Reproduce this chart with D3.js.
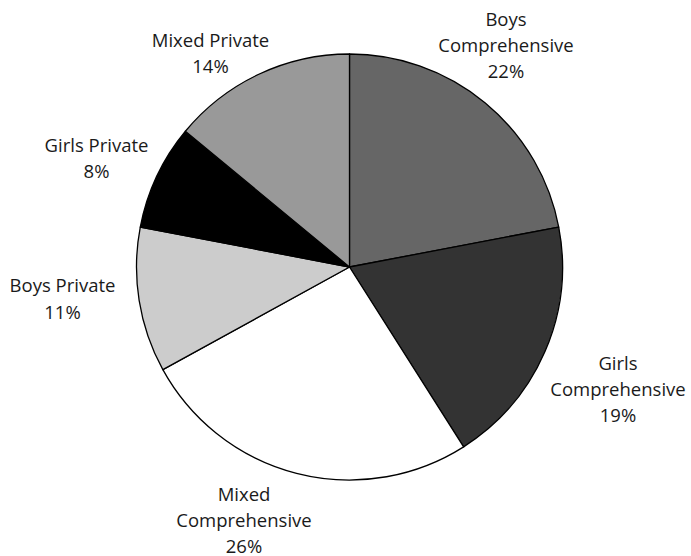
<!DOCTYPE html>
<html>
<head>
<meta charset="utf-8">
<script src="https://cdn.jsdelivr.net/npm/d3@7"></script>
<style>
  html, body { margin: 0; padding: 0; background: #fff; }
  svg { display: block; }
</style>
</head>
<body>
<svg id="chart" width="691" height="556"></svg>
<script>
// School type shares
const categories = [
  "Boys Comprehensive",
  "Girls Comprehensive",
  "Mixed Comprehensive",
  "Boys Private",
  "Girls Private",
  "Mixed Private"
];
const shares = [22, 19, 26, 11, 8, 14];

// Label text split over lines
const labelLines = [
  ["Boys", "Comprehensive"],
  ["Girls", "Comprehensive"],
  ["Mixed", "Comprehensive"],
  ["Boys Private"],
  ["Girls Private"],
  ["Mixed Private"]
];

// Slice fills, in category order
const fills = ["#666666", "#333333", "#ffffff", "#cccccc", "#000000", "#999999"];

// Label anchors (centre x, first baseline y)
const labelAnchors = [
  [506, 26],
  [618, 370],
  [244, 500.5],
  [62.5, 292.3],
  [96.5, 152],
  [210.5, 47]
];

const width = 691, height = 556;
const cx = 349.5, cy = 267, radius = 213;
const lineHeight = 26.2;

const svg = d3.select("#chart");

const data = categories.map((c, i) => ({ name: c, value: shares[i], lines: labelLines[i], i }));

const pie = d3.pie()
  .value(d => d.value)
  .sort(null);

const arc = d3.arc()
  .innerRadius(0)
  .outerRadius(radius);

const color = d3.scaleOrdinal().domain(categories).range(fills);

const g = svg.append("g").attr("transform", `translate(${cx},${cy})`);

g.selectAll("path")
  .data(pie(data))
  .join("path")
  .attr("d", arc)
  .attr("fill", d => color(d.data.name))
  .attr("stroke", "#000")
  .attr("stroke-width", 1.3)
  .attr("stroke-linejoin", "round");

const labels = svg.append("g")
  .attr("font-family", "'Open Sans', 'Noto Sans', sans-serif")
  .attr("font-size", "18.5px")
  .attr("fill", "#1a1a1a")
  .attr("text-anchor", "middle");

labels.selectAll("text")
  .data(data)
  .join("text")
  .attr("x", d => labelAnchors[d.i][0])
  .attr("y", d => labelAnchors[d.i][1])
  .each(function (d) {
    const t = d3.select(this);
    const rows = d.lines.concat([d.value + "%"]);
    rows.forEach((row, k) => {
      t.append("tspan")
        .attr("x", labelAnchors[d.i][0])
        .attr("dy", k === 0 ? 0 : lineHeight)
        .text(row);
    });
  });
</script>
</body>
</html>
